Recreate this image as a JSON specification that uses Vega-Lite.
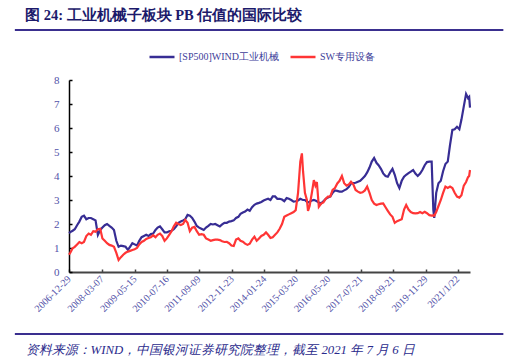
{
  "$schema": "https://vega.github.io/schema/vega-lite/v6.json",
  "width": 401,
  "height": 192,
  "autosize": "none",
  "padding": {"left": 69, "top": 80, "right": 38, "bottom": 92},
  "background": "white",
  "title": {
    "text": "图 24:  工业机械子板块 PB 估值的国际比较",
    "anchor": "start",
    "frame": "group",
    "dx": -44,
    "offset": 6,
    "font": "Liberation Serif",
    "fontSize": 14.5,
    "fontWeight": "bold",
    "color": "#1c1a6b"
  },
  "config": {
    "view": {"stroke": null},
    "axis": {"grid": false, "labelOverlap": false}
  },
  "resolve": {"axis": {"x": "independent", "y": "independent"}},
  "layer": [
    {
      "data": {
        "values": [
          {"d": "2006-12-29", "a": 1.62, "b": 0.72},
          {"d": "2007-01-15", "a": 1.66, "b": 0.80},
          {"d": "2007-02-15", "a": 1.72, "b": 0.99},
          {"d": "2007-03-15", "a": 1.78, "b": 1.05},
          {"d": "2007-04-15", "a": 1.95, "b": 1.15},
          {"d": "2007-05-15", "a": 2.10, "b": 1.25},
          {"d": "2007-06-15", "a": 2.30, "b": 1.20},
          {"d": "2007-07-15", "a": 2.35, "b": 1.25},
          {"d": "2007-08-15", "a": 2.20, "b": 1.50},
          {"d": "2007-09-15", "a": 2.25, "b": 1.60},
          {"d": "2007-10-15", "a": 2.25, "b": 1.55},
          {"d": "2007-11-15", "a": 2.20, "b": 1.70},
          {"d": "2007-12-15", "a": 2.15, "b": 1.68},
          {"d": "2008-01-15", "a": 1.55, "b": 1.78},
          {"d": "2008-02-15", "a": 1.75, "b": 1.80},
          {"d": "2008-03-15", "a": 1.85, "b": 1.40},
          {"d": "2008-04-15", "a": 1.95, "b": 1.30},
          {"d": "2008-05-15", "a": 2.00, "b": 1.20},
          {"d": "2008-06-15", "a": 1.92, "b": 1.13},
          {"d": "2008-07-15", "a": 1.85, "b": 1.10},
          {"d": "2008-08-15", "a": 1.75, "b": 1.05},
          {"d": "2008-09-15", "a": 1.30, "b": 0.80},
          {"d": "2008-10-15", "a": 1.05, "b": 0.50},
          {"d": "2008-11-15", "a": 1.10, "b": 0.62},
          {"d": "2008-12-15", "a": 1.08, "b": 0.72},
          {"d": "2009-01-15", "a": 1.05, "b": 0.80},
          {"d": "2009-02-15", "a": 0.92, "b": 0.85},
          {"d": "2009-03-15", "a": 1.05, "b": 0.88},
          {"d": "2009-04-15", "a": 1.20, "b": 0.92},
          {"d": "2009-05-15", "a": 1.15, "b": 0.95},
          {"d": "2009-06-15", "a": 1.10, "b": 1.00},
          {"d": "2009-07-15", "a": 1.30, "b": 1.15},
          {"d": "2009-08-15", "a": 1.45, "b": 1.25},
          {"d": "2009-09-15", "a": 1.50, "b": 1.30},
          {"d": "2009-10-15", "a": 1.55, "b": 1.38},
          {"d": "2009-11-15", "a": 1.50, "b": 1.42},
          {"d": "2009-12-15", "a": 1.58, "b": 1.45},
          {"d": "2010-01-15", "a": 1.60, "b": 1.53},
          {"d": "2010-02-15", "a": 1.75, "b": 1.45},
          {"d": "2010-03-15", "a": 1.85, "b": 1.55},
          {"d": "2010-04-15", "a": 1.90, "b": 1.60},
          {"d": "2010-05-15", "a": 1.78, "b": 1.50},
          {"d": "2010-06-15", "a": 1.65, "b": 1.30},
          {"d": "2010-07-15", "a": 1.65, "b": 1.40},
          {"d": "2010-08-15", "a": 1.70, "b": 1.55},
          {"d": "2010-09-15", "a": 1.72, "b": 1.70},
          {"d": "2010-10-15", "a": 1.78, "b": 1.90},
          {"d": "2010-11-15", "a": 1.90, "b": 2.05},
          {"d": "2010-12-15", "a": 2.05, "b": 2.00},
          {"d": "2011-01-15", "a": 2.10, "b": 1.96},
          {"d": "2011-02-15", "a": 2.15, "b": 2.00},
          {"d": "2011-03-15", "a": 2.20, "b": 2.17},
          {"d": "2011-04-15", "a": 2.38, "b": 2.05},
          {"d": "2011-05-15", "a": 2.35, "b": 1.70},
          {"d": "2011-06-15", "a": 2.25, "b": 1.85},
          {"d": "2011-07-15", "a": 2.10, "b": 1.88},
          {"d": "2011-08-15", "a": 1.92, "b": 1.70},
          {"d": "2011-09-15", "a": 1.85, "b": 1.55},
          {"d": "2011-10-15", "a": 1.80, "b": 1.58},
          {"d": "2011-11-15", "a": 1.75, "b": 1.55},
          {"d": "2011-12-15", "a": 1.85, "b": 1.40},
          {"d": "2012-01-15", "a": 1.92, "b": 1.35},
          {"d": "2012-02-15", "a": 2.00, "b": 1.30},
          {"d": "2012-03-15", "a": 1.98, "b": 1.33},
          {"d": "2012-04-15", "a": 2.00, "b": 1.35},
          {"d": "2012-05-15", "a": 1.95, "b": 1.35},
          {"d": "2012-06-15", "a": 1.90, "b": 1.33},
          {"d": "2012-07-15", "a": 1.98, "b": 1.28},
          {"d": "2012-08-15", "a": 2.05, "b": 1.25},
          {"d": "2012-09-15", "a": 2.05, "b": 1.26},
          {"d": "2012-10-15", "a": 2.10, "b": 1.20},
          {"d": "2012-11-15", "a": 2.12, "b": 1.10},
          {"d": "2012-12-15", "a": 2.15, "b": 1.08},
          {"d": "2013-01-15", "a": 2.25, "b": 1.35},
          {"d": "2013-02-15", "a": 2.30, "b": 1.40},
          {"d": "2013-03-15", "a": 2.42, "b": 1.30},
          {"d": "2013-04-15", "a": 2.48, "b": 1.26},
          {"d": "2013-05-15", "a": 2.52, "b": 1.18},
          {"d": "2013-06-15", "a": 2.60, "b": 1.13},
          {"d": "2013-07-15", "a": 2.55, "b": 1.18},
          {"d": "2013-08-15", "a": 2.70, "b": 1.35},
          {"d": "2013-09-15", "a": 2.80, "b": 1.47},
          {"d": "2013-10-15", "a": 2.85, "b": 1.30},
          {"d": "2013-11-15", "a": 2.88, "b": 1.40},
          {"d": "2013-12-15", "a": 2.92, "b": 1.50},
          {"d": "2014-01-15", "a": 2.98, "b": 1.55},
          {"d": "2014-02-15", "a": 3.02, "b": 1.65},
          {"d": "2014-03-15", "a": 3.05, "b": 1.55},
          {"d": "2014-04-15", "a": 3.00, "b": 1.42},
          {"d": "2014-05-15", "a": 3.15, "b": 1.45},
          {"d": "2014-06-15", "a": 3.15, "b": 1.55},
          {"d": "2014-07-15", "a": 3.05, "b": 1.65},
          {"d": "2014-08-15", "a": 3.05, "b": 1.80},
          {"d": "2014-09-15", "a": 3.02, "b": 2.00},
          {"d": "2014-10-15", "a": 2.95, "b": 2.30},
          {"d": "2014-11-15", "a": 3.08, "b": 2.35},
          {"d": "2014-12-15", "a": 3.05, "b": 2.40},
          {"d": "2015-01-15", "a": 3.00, "b": 2.45},
          {"d": "2015-02-15", "a": 2.93, "b": 2.50},
          {"d": "2015-03-15", "a": 2.95, "b": 2.58},
          {"d": "2015-04-15", "a": 2.98, "b": 3.30},
          {"d": "2015-05-15", "a": 3.05, "b": 4.60},
          {"d": "2015-06-05", "a": 3.02, "b": 4.94},
          {"d": "2015-06-20", "a": 3.00, "b": 4.20},
          {"d": "2015-07-15", "a": 3.00, "b": 3.30},
          {"d": "2015-08-10", "a": 2.92, "b": 3.00},
          {"d": "2015-08-25", "a": 2.90, "b": 2.55},
          {"d": "2015-09-15", "a": 2.93, "b": 2.75},
          {"d": "2015-10-15", "a": 2.98, "b": 3.30},
          {"d": "2015-11-10", "a": 3.00, "b": 3.83},
          {"d": "2015-12-01", "a": 2.98, "b": 3.60},
          {"d": "2015-12-20", "a": 2.95, "b": 3.75},
          {"d": "2016-01-15", "a": 2.90, "b": 2.72},
          {"d": "2016-02-15", "a": 2.86, "b": 2.85},
          {"d": "2016-03-15", "a": 2.95, "b": 2.90},
          {"d": "2016-04-15", "a": 3.05, "b": 3.05},
          {"d": "2016-05-15", "a": 3.10, "b": 3.14},
          {"d": "2016-06-15", "a": 3.15, "b": 3.15},
          {"d": "2016-07-15", "a": 3.30, "b": 3.42},
          {"d": "2016-08-15", "a": 3.40, "b": 3.50},
          {"d": "2016-09-15", "a": 3.38, "b": 3.69},
          {"d": "2016-10-15", "a": 3.35, "b": 3.80},
          {"d": "2016-11-15", "a": 3.35, "b": 4.00},
          {"d": "2016-12-15", "a": 3.40, "b": 3.70},
          {"d": "2017-01-15", "a": 3.45, "b": 3.60},
          {"d": "2017-02-15", "a": 3.55, "b": 3.65},
          {"d": "2017-03-15", "a": 3.69, "b": 3.76},
          {"d": "2017-04-15", "a": 3.70, "b": 3.65},
          {"d": "2017-05-15", "a": 3.72, "b": 3.42},
          {"d": "2017-06-15", "a": 3.76, "b": 3.35},
          {"d": "2017-07-15", "a": 3.80, "b": 3.30},
          {"d": "2017-08-15", "a": 3.90, "b": 3.32},
          {"d": "2017-09-15", "a": 4.00, "b": 3.40},
          {"d": "2017-10-15", "a": 4.15, "b": 3.56},
          {"d": "2017-11-15", "a": 4.35, "b": 3.30},
          {"d": "2017-12-15", "a": 4.60, "b": 3.00},
          {"d": "2018-01-15", "a": 4.75, "b": 2.85},
          {"d": "2018-02-15", "a": 4.55, "b": 2.79},
          {"d": "2018-03-15", "a": 4.45, "b": 2.82},
          {"d": "2018-04-15", "a": 4.30, "b": 2.85},
          {"d": "2018-05-15", "a": 4.11, "b": 2.86},
          {"d": "2018-06-15", "a": 4.00, "b": 2.70},
          {"d": "2018-07-15", "a": 3.97, "b": 2.55},
          {"d": "2018-08-15", "a": 4.15, "b": 2.40},
          {"d": "2018-09-15", "a": 4.30, "b": 2.30},
          {"d": "2018-10-15", "a": 4.05, "b": 2.05},
          {"d": "2018-11-15", "a": 3.70, "b": 2.12},
          {"d": "2018-12-15", "a": 3.50, "b": 2.16},
          {"d": "2019-01-15", "a": 3.80, "b": 2.20},
          {"d": "2019-02-15", "a": 3.97, "b": 2.60},
          {"d": "2019-03-15", "a": 4.05, "b": 2.79},
          {"d": "2019-04-15", "a": 4.12, "b": 2.60},
          {"d": "2019-05-15", "a": 4.18, "b": 2.50},
          {"d": "2019-06-15", "a": 4.25, "b": 2.45},
          {"d": "2019-07-15", "a": 4.10, "b": 2.44},
          {"d": "2019-08-15", "a": 4.00, "b": 2.45},
          {"d": "2019-09-15", "a": 4.10, "b": 2.50},
          {"d": "2019-10-15", "a": 4.25, "b": 2.45},
          {"d": "2019-11-15", "a": 4.45, "b": 2.51},
          {"d": "2019-12-15", "a": 4.58, "b": 2.45},
          {"d": "2020-01-15", "a": 4.60, "b": 2.37},
          {"d": "2020-02-15", "a": 4.60, "b": 2.35},
          {"d": "2020-03-08", "a": 2.60, "b": 2.36},
          {"d": "2020-03-20", "a": 2.25, "b": 2.35},
          {"d": "2020-04-15", "a": 3.30, "b": 2.50},
          {"d": "2020-05-15", "a": 3.70, "b": 2.75},
          {"d": "2020-06-15", "a": 3.80, "b": 3.00},
          {"d": "2020-07-15", "a": 4.20, "b": 3.30},
          {"d": "2020-08-15", "a": 4.50, "b": 3.56},
          {"d": "2020-09-15", "a": 4.60, "b": 3.50},
          {"d": "2020-10-15", "a": 5.30, "b": 3.56},
          {"d": "2020-11-15", "a": 5.92, "b": 3.50},
          {"d": "2020-12-15", "a": 5.95, "b": 3.30},
          {"d": "2021-01-15", "a": 6.05, "b": 3.14},
          {"d": "2021-02-15", "a": 5.95, "b": 3.10},
          {"d": "2021-03-15", "a": 6.35, "b": 3.20},
          {"d": "2021-04-15", "a": 6.90, "b": 3.60},
          {"d": "2021-05-15", "a": 7.42, "b": 3.75},
          {"d": "2021-06-10", "a": 7.25, "b": 3.95},
          {"d": "2021-06-25", "a": 7.30, "b": 4.00},
          {"d": "2021-07-06", "a": 6.85, "b": 4.25}
        ]
      },
      "transform": [{"fold": ["a", "b"], "as": ["s", "v"]}],
      "mark": {"type": "line", "strokeWidth": 2.2},
      "encoding": {
        "x": {
          "field": "d",
          "type": "temporal",
          "scale": {"domain": [{"year": 2006, "month": 12, "date": 29}, {"year": 2021, "month": 7, "date": 6}]},
          "axis": {
            "values": [
              {"year": 2006, "month": 12, "date": 29},
              {"year": 2008, "month": 3, "date": 7},
              {"year": 2009, "month": 5, "date": 15},
              {"year": 2010, "month": 7, "date": 16},
              {"year": 2011, "month": 9, "date": 9},
              {"year": 2012, "month": 11, "date": 23},
              {"year": 2014, "month": 1, "date": 24},
              {"year": 2015, "month": 3, "date": 20},
              {"year": 2016, "month": 5, "date": 20},
              {"year": 2017, "month": 7, "date": 21},
              {"year": 2018, "month": 9, "date": 21},
              {"year": 2019, "month": 11, "date": 29},
              {"year": 2021, "month": 1, "date": 22}
            ],
            "labelExpr": "timeFormat(datum.value, '%Y') == '2021' ? '2021/1/22' : timeFormat(datum.value, '%Y-%m-%d')",
            "labelAngle": -45,
            "labelAlign": "right",
            "labelBaseline": "middle",
            "labelFont": "Liberation Serif",
            "labelFontSize": 10,
            "labelColor": "#5252a8",
            "labelPadding": 8,
            "labelOverlap": false,
            "domainColor": "#444444",
            "domainWidth": 2,
            "tickColor": "#444444",
            "tickWidth": 1.5,
            "tickSize": -3,
            "title": "资料来源：WIND，中国银河证券研究院整理，截至 2021 年 7 月 6 日",
            "titleX": -44,
            "titleY": 77,
            "titleAlign": "left",
            "titleBaseline": "middle",
            "titleAngle": 0,
            "titleFont": "Liberation Serif",
            "titleFontSize": 12.8,
            "titleFontStyle": "italic",
            "titleFontWeight": "normal",
            "titleColor": "#2a2a8c"
          }
        },
        "y": {
          "field": "v",
          "type": "quantitative",
          "scale": {"domain": [0, 8], "nice": false},
          "axis": {
            "values": [0, 1, 2, 3, 4, 5, 6, 7, 8],
            "labelOverlap": false,
            "labelFont": "Liberation Serif",
            "labelFontSize": 11,
            "labelColor": "#5252a8",
            "labelPadding": 13,
            "domainColor": "#000000",
            "domainWidth": 1.5,
            "tickColor": "#000000",
            "tickWidth": 1.5,
            "tickSize": -3,
            "title": null
          }
        },
        "color": {
          "field": "s",
          "type": "nominal",
          "scale": {"domain": ["a", "b"], "range": ["#372d94", "#ff3535"]},
          "legend": {
            "orient": "none",
            "legendX": 79,
            "legendY": -37,
            "direction": "horizontal",
            "title": null,
            "labelExpr": "datum.label == 'a' ? '[SP500]WIND工业机械' : 'SW专用设备'",
            "symbolType": "stroke",
            "symbolStrokeWidth": 2.5,
            "symbolSize": 625,
            "labelFont": "Liberation Serif",
            "labelFontSize": 10,
            "labelColor": "#3d3d99",
            "labelOffset": 3,
            "columnPadding": 6
          }
        }
      }
    },
    {
      "data": {"values": [{"k": 1}]},
      "mark": {"type": "rule", "clip": false, "strokeWidth": 2, "color": "#3a2f8f"},
      "encoding": {
        "x": {"datum": {"year": 2005, "month": 1, "date": 12}, "type": "temporal", "axis": null},
        "x2": {"datum": {"year": 2022, "month": 9, "date": 20}},
        "y": {"datum": 10.08, "type": "quantitative", "axis": null}
      }
    },
    {
      "data": {"values": [{"k": 1}]},
      "mark": {"type": "rule", "clip": false, "strokeWidth": 2, "color": "#3a2f8f"},
      "encoding": {
        "x": {"datum": {"year": 2005, "month": 1, "date": 12}, "type": "temporal", "axis": null},
        "x2": {"datum": {"year": 2022, "month": 9, "date": 20}},
        "y": {"datum": -2.58, "type": "quantitative", "axis": null}
      }
    }
  ]
}
